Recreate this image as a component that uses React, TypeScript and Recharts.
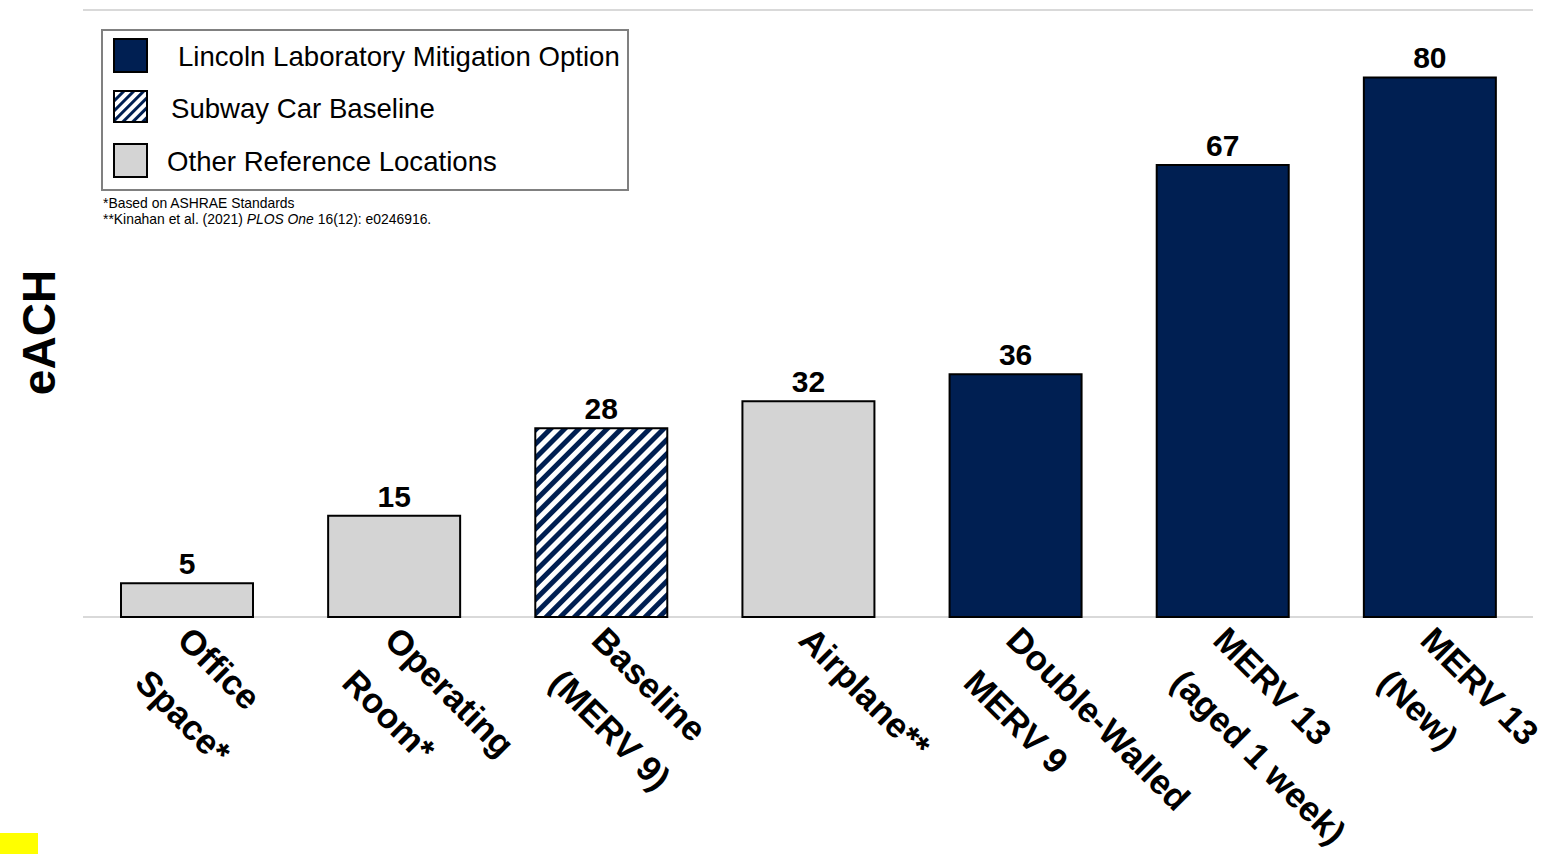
import React from 'react';
import { BarChart, Bar, XAxis, YAxis, CartesianGrid, Cell, LabelList, Legend } from 'recharts';

// Effective air changes per hour for each location / filtration option
const categories = [
  'Office Space*',
  'Operating Room*',
  'Baseline (MERV 9)',
  'Airplane**',
  'Double-Walled MERV 9',
  'MERV 13 (aged 1 week)',
  'MERV 13 (New)',
];
const categoryLines = [
  ['Office', 'Space*'],
  ['Operating', 'Room*'],
  ['Baseline', '(MERV 9)'],
  ['Airplane**'],
  ['Double-Walled', 'MERV 9'],
  ['MERV 13', '(aged 1 week)'],
  ['MERV 13', '(New)'],
];
const eachValues = [5, 15, 28, 32, 36, 67, 80];
const barGroups = ['other', 'other', 'subway', 'other', 'lincoln', 'lincoln', 'lincoln'];
const yTicks = [0, 10, 20, 30, 40, 50, 60, 70, 80, 90];

const legendLabels = ['Lincoln Laboratory Mitigation Option', 'Subway Car Baseline', 'Other Reference Locations'];
const legendGroups = ['lincoln', 'subway', 'other'];
const footnote1 = '*Based on ASHRAE Standards';
const footnote2 = ['**Kinahan et al. (2021) ', 'PLOS One', ' 16(12): e0246916.'];

const NAVY = '#001f52';
const GRAY = '#d4d4d4';
const FONT = '"Liberation Sans", Arial, Helvetica, sans-serif';

const groupFill: Record<string, string> = {
  lincoln: NAVY,
  subway: 'url(#subwayHatch)',
  other: GRAY,
};

const data = categories.map((name, i) => ({ name, value: eachValues[i], group: barGroups[i] }));

const CategoryTick = (props: any) => {
  const { x, y, payload } = props;
  const lines = categoryLines[payload.index] || [String(payload.value)];
  const step = 42.4;
  return (
    <g>
      {lines.map((line, i) => {
        const ox = x - 11 - i * step;
        const oy = y + 17 + i * step;
        return (
          <text
            key={i}
            x={ox}
            y={oy}
            transform={`rotate(45 ${ox} ${oy})`}
            textAnchor="start"
            fontFamily={FONT}
            fontWeight="bold"
            fontSize={35}
            fill="#000"
          >
            {line}
          </text>
        );
      })}
    </g>
  );
};

const Swatch = ({ group }: { group: string }) => {
  if (group === 'subway') {
    return (
      <svg width={35} height={33} style={{ display: 'block' }}>
        <defs>
          <pattern id="swatchHatch" patternUnits="userSpaceOnUse" width={7} height={7} patternTransform="rotate(45)">
            <rect x={0} y={0} width={7} height={7} fill="#fff" />
            <rect x={0} y={0} width={3} height={7} fill={NAVY} />
          </pattern>
        </defs>
        <rect x={1} y={1} width={33} height={31} fill="url(#swatchHatch)" stroke="#000" strokeWidth={2} />
      </svg>
    );
  }
  return (
    <div
      style={{
        width: 35,
        height: 35,
        boxSizing: 'border-box',
        border: '2px solid #000',
        background: group === 'lincoln' ? NAVY : GRAY,
      }}
    />
  );
};

const legendRowTops = [9, 61, 114];
const legendTextLeft = [77, 70, 66];

const LegendBox = () => (
  <div style={{ position: 'relative', width: 528, height: 205, fontFamily: FONT }}>
    <div
      style={{
        position: 'absolute',
        left: 0,
        top: 0,
        width: 528,
        height: 162,
        boxSizing: 'border-box',
        border: '2px solid #808080',
        background: '#fff',
      }}
    >
      {legendLabels.map((label, i) => (
        <div key={label} style={{ position: 'absolute', left: 10, top: legendRowTops[i] - 2, height: 35, width: 510 }}>
          <div style={{ position: 'absolute', left: 0, top: 0 }}>
            <Swatch group={legendGroups[i]} />
          </div>
          <div
            style={{
              position: 'absolute',
              left: legendTextLeft[i] - 12,
              top: 1,
              height: 35,
              lineHeight: '35px',
              fontSize: 27.6,
              color: '#000',
              whiteSpace: 'nowrap',
            }}
          >
            {label}
          </div>
        </div>
      ))}
    </div>
    <div style={{ position: 'absolute', left: 2, top: 166, fontSize: 13.9, lineHeight: '16px', color: '#000', whiteSpace: 'nowrap' }}>
      <div>{footnote1}</div>
      <div>
        {footnote2[0]}
        <i>{footnote2[1]}</i>
        {footnote2[2]}
      </div>
    </div>
  </div>
);

const YTitle = (props: any) => {
  const vb = props.viewBox || { x: 0, y: 10, width: 83, height: 607 };
  const tx = vb.x + 55;
  const ty = vb.y + vb.height / 2 + 19;
  return (
    <text
      x={tx}
      y={ty}
      transform={`rotate(-90 ${tx} ${ty})`}
      textAnchor="middle"
      fontFamily={FONT}
      fontWeight="bold"
      fontSize={46}
      fill="#000"
    >
      eACH
    </text>
  );
};

export default function App() {
  return (
    <div style={{ position: 'absolute', left: 0, top: 0, width: 1568, height: 854, background: '#fff', overflow: 'hidden' }}>
      <BarChart
        width={1568}
        height={854}
        data={data}
        margin={{ top: 10, right: 35, bottom: 0, left: 0 }}
        barCategoryGap={0}
      >
        <defs>
          <pattern id="subwayHatch" patternUnits="userSpaceOnUse" width={10} height={10} patternTransform="rotate(45)">
            <rect x={0} y={0} width={10} height={10} fill="#fff" />
            <rect x={0} y={0} width={5} height={10} fill={NAVY} />
          </pattern>
        </defs>
        <CartesianGrid vertical={false} stroke="#d9d9d9" strokeWidth={2} />
        <XAxis
          dataKey="name"
          interval={0}
          height={237}
          axisLine={false}
          tickLine={false}
          tick={<CategoryTick />}
        />
        <YAxis
          width={83}
          domain={[0, 90]}
          ticks={yTicks}
          tick={false}
          axisLine={false}
          tickLine={false}
          label={<YTitle />}
        />
        <Legend
          layout="vertical"
          align="center"
          verticalAlign="middle"
          content={<LegendBox />}
          wrapperStyle={{ position: 'absolute', left: 101, top: 29, width: 528, height: 205 }}
        />
        <Bar dataKey="value" barSize={132} stroke="#000" strokeWidth={2} isAnimationActive={false}>
          {data.map((d, i) => (
            <Cell key={i} fill={groupFill[d.group]} />
          ))}
          <LabelList
            dataKey="value"
            position="top"
            offset={9}
            fontFamily={FONT}
            fontWeight="bold"
            fontSize={30}
            fill="#000"
          />
        </Bar>
      </BarChart>
      <div style={{ position: 'absolute', left: 0, top: 833, width: 38, height: 21, background: '#ffff00' }} />
    </div>
  );
}
